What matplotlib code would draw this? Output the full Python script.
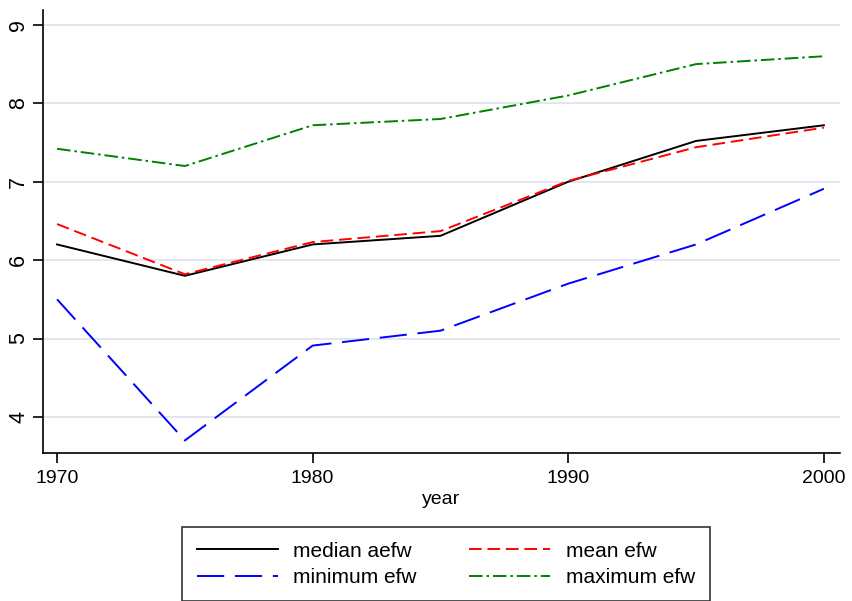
import matplotlib
matplotlib.use("Agg")
import matplotlib.pyplot as plt

years = [1970, 1975, 1980, 1985, 1990, 1995, 2000]
median_aefw = [6.20, 5.80, 6.20, 6.31, 7.00, 7.52, 7.72]
mean_efw = [6.46, 5.82, 6.23, 6.37, 7.01, 7.44, 7.69]
minimum_efw = [5.50, 3.70, 4.91, 5.10, 5.70, 6.20, 6.91]
maximum_efw = [7.42, 7.20, 7.72, 7.80, 8.10, 8.50, 8.60]

yticks = [4, 5, 6, 7, 8, 9]
xticks = [1970, 1980, 1990, 2000]

plt.rcParams['font.family'] = ['Liberation Sans', 'DejaVu Sans']

fig = plt.figure(figsize=(8.53, 6.01), dpi=100)
W, H = 853, 601
ax = fig.add_axes([43 / W, 1 - 453 / H, (840 - 43) / W, (453 - 10) / H])

ax.set_xlim(1969.45, 2000.63)
ax.set_ylim(3.54, 9.19)

for v in yticks:
    ax.axhline(v, color='#e1e4ef', lw=1.3, zorder=0)

lw = 1.4
l1, = ax.plot(years, median_aefw, color='black', lw=lw, label='median aefw')
l2, = ax.plot(years, mean_efw, color='#ff0000', lw=lw, dashes=(6.5, 3), label='mean efw')
l3, = ax.plot(years, minimum_efw, color='#0000ff', lw=lw, dashes=(14, 5.5), label='minimum efw')
l4, = ax.plot(years, maximum_efw, color='#008000', lw=lw, dashes=(7, 2, 1.3, 2), label='maximum efw')

ax.spines['top'].set_visible(False)
ax.spines['right'].set_visible(False)
for s in ['left', 'bottom']:
    ax.spines[s].set_linewidth(1.2)

ax.set_xticks(xticks)
ax.set_yticks(yticks)
ax.tick_params(axis='both', direction='out', length=7, width=1.2)
ax.tick_params(axis='x', labelsize=14, pad=5)
ax.tick_params(axis='y', labelrotation=90, labelsize=15.5, pad=3)
for lab in ax.get_yticklabels():
    lab.set_va('center')
ax.set_xlabel('year', fontsize=14, labelpad=3)

handles = [l1, l3, l2, l4]
labels = [h.get_label() for h in handles]
leg = fig.legend(handles, labels, ncol=2, loc='upper left',
                 bbox_to_anchor=(182 / W, 1 - 527 / H), fontsize=15,
                 frameon=True, fancybox=False, edgecolor='black',
                 handlelength=3.9, handletextpad=0.75, columnspacing=2.5,
                 borderpad=0.7, labelspacing=0.35, borderaxespad=0)
leg.get_frame().set_linewidth(1.2)

fig.savefig('out.png', dpi=100)
